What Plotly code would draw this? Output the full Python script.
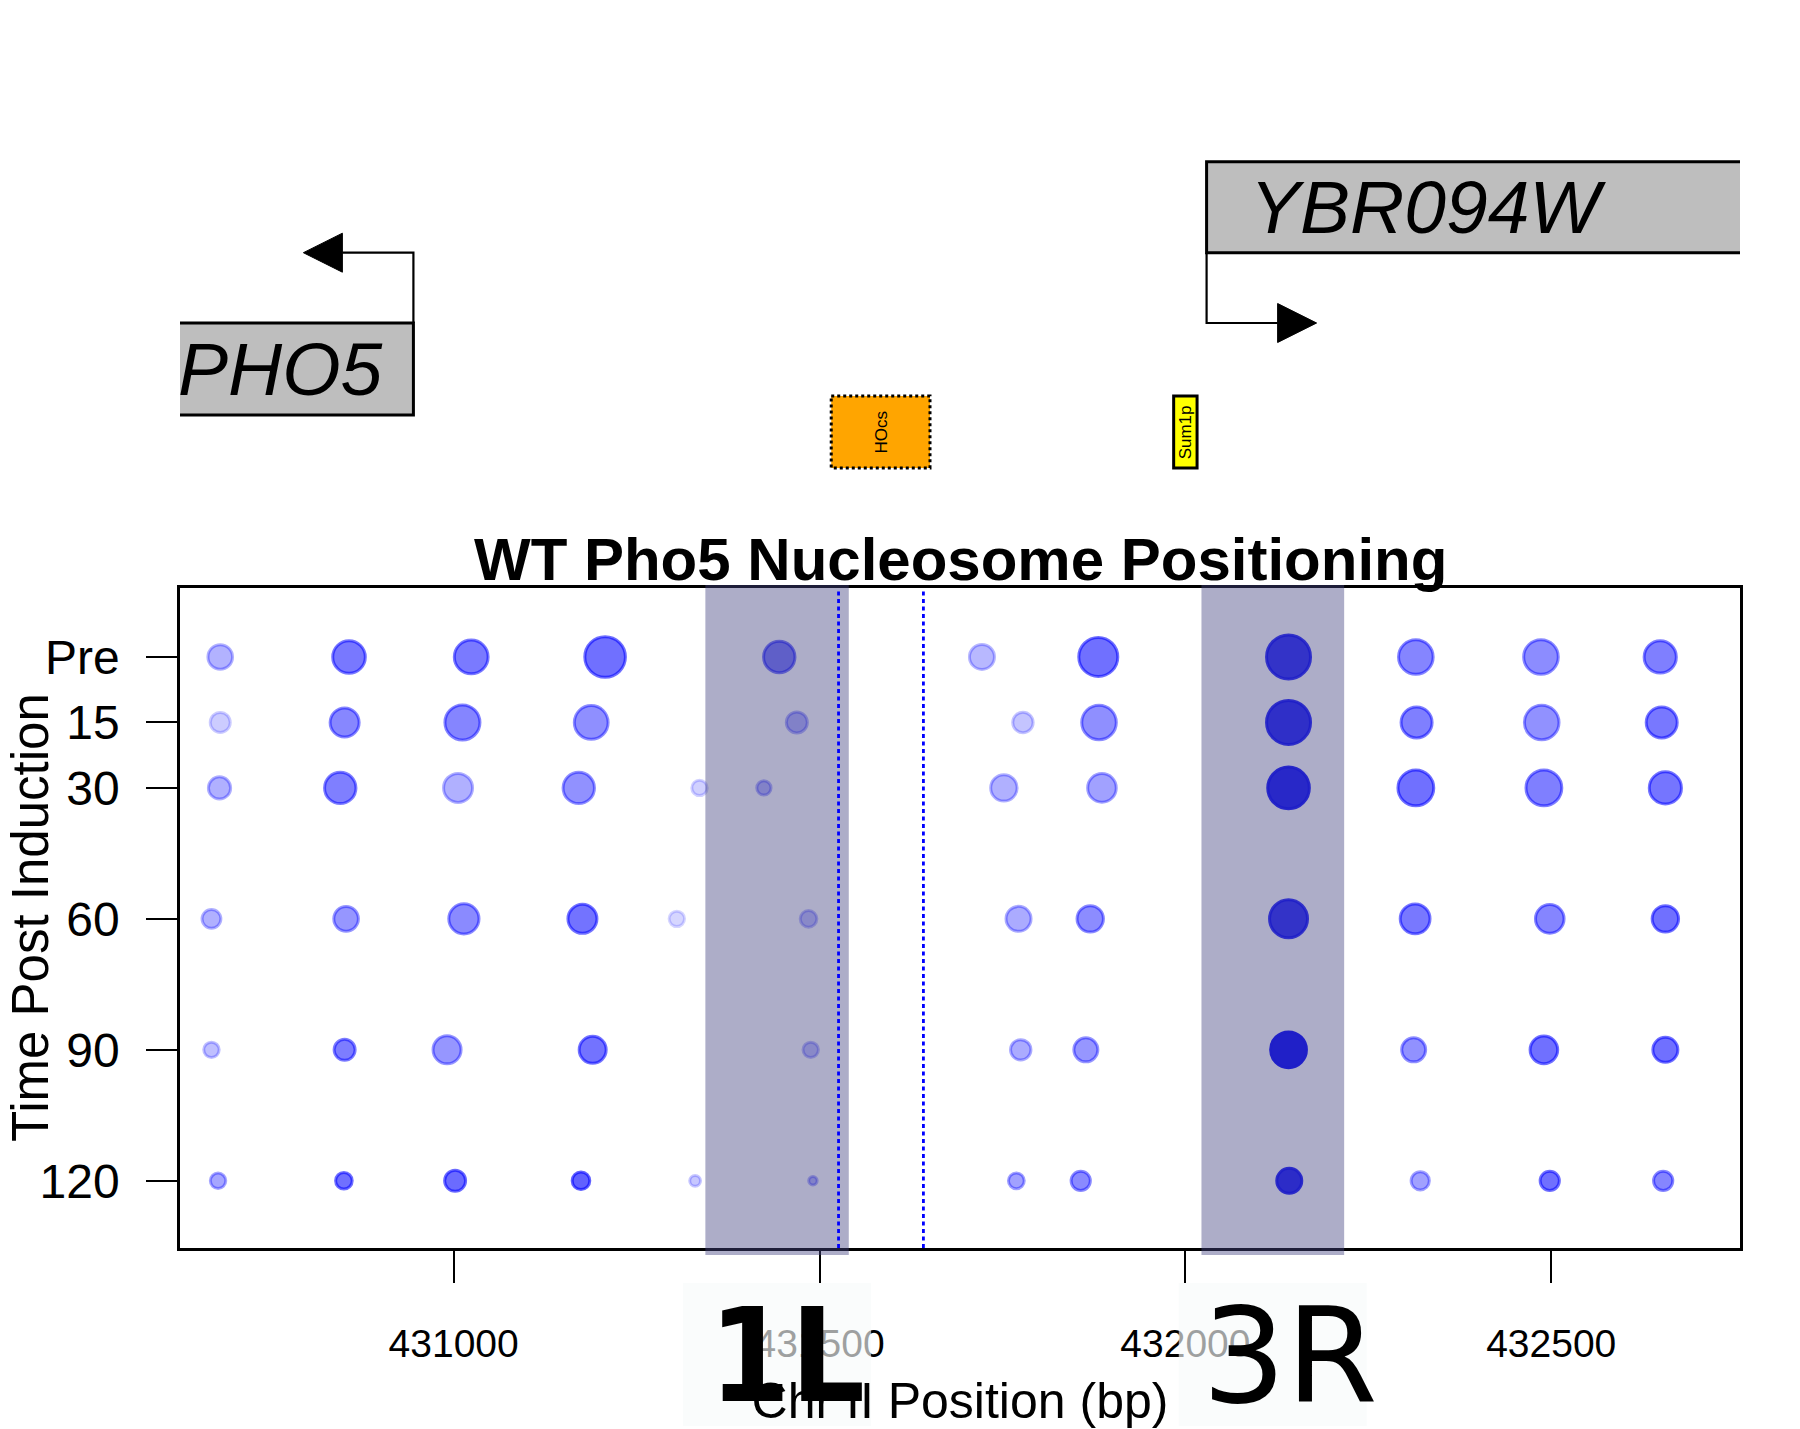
import plotly.graph_objects as go

# ---------------- data ----------------
TIMES = [0, 15, 30, 60, 90, 120]
TIME_LABELS = ["Pre", "15", "30", "60", "90", "120"]
X_TICKS = [431000, 431500, 432000, 432500]

# nucleosome dyad positions (bp), occupancy (marker radius units) and confidence (alpha)
POS_PRE = [430681, 430857, 431024, 431207, 431445, 431722, 431881, 432141, 432315, 432486, 432649]
OCC_PRE = [13.8, 17.8, 18.4, 21.8, 17.2, 14.0, 21.0, 23.5, 18.8, 18.8, 17.6]
CONF_PRE = [0.30, 0.53, 0.52, 0.56, 0.54, 0.28, 0.56, 0.85, 0.48, 0.45, 0.50]

POS_15 = [430681, 430851, 431012, 431188, 431469, 431778, 431882, 432141, 432316, 432487, 432651]
OCC_15 = [11.5, 16.0, 19.0, 18.4, 12.0, 11.7, 18.8, 23.5, 17.0, 18.8, 17.0]
CONF_15 = [0.20, 0.47, 0.48, 0.44, 0.31, 0.23, 0.44, 0.88, 0.50, 0.43, 0.53]

POS_30 = [430680, 430845, 431006, 431171, 431336, 431424, 431752, 431886, 432141, 432315, 432490, 432656]
OCC_30 = [12.6, 17.2, 16.0, 17.2, 9.2, 8.6, 14.7, 15.8, 22.3, 19.4, 19.4, 17.6]
CONF_30 = [0.31, 0.50, 0.31, 0.43, 0.18, 0.30, 0.31, 0.37, 0.93, 0.56, 0.50, 0.54]

POS_60 = [430669, 430853, 431014, 431176, 431305, 431485, 431772, 431870, 432141, 432314, 432498, 432656]
OCC_60 = [10.9, 13.8, 16.6, 16.0, 9.2, 9.8, 14.0, 14.7, 20.5, 16.4, 15.8, 14.7]
CONF_60 = [0.31, 0.41, 0.46, 0.55, 0.16, 0.25, 0.33, 0.45, 0.85, 0.53, 0.48, 0.56]

POS_90 = [430669, 430851, 430991, 431190, 431488, 431775, 431864, 432141, 432312, 432490, 432656]
OCC_90 = [9.2, 12.0, 15.5, 15.0, 9.2, 11.7, 13.5, 19.4, 13.5, 15.3, 14.0]
CONF_90 = [0.25, 0.51, 0.41, 0.55, 0.25, 0.33, 0.41, 0.98, 0.43, 0.56, 0.56]

POS_120 = [430678, 430850, 431002, 431174, 431330, 431491, 431769, 431857, 432142, 432321, 432498, 432653]
OCC_120 = [9.2, 9.8, 12.0, 10.3, 6.9, 5.7, 9.4, 11.1, 14.0, 10.6, 11.1, 11.1]
CONF_120 = [0.35, 0.56, 0.58, 0.62, 0.22, 0.30, 0.37, 0.46, 0.90, 0.37, 0.56, 0.48]

ROWS = [
    (TIMES[0], POS_PRE, OCC_PRE, CONF_PRE),
    (TIMES[1], POS_15, OCC_15, CONF_15),
    (TIMES[2], POS_30, OCC_30, CONF_30),
    (TIMES[3], POS_60, OCC_60, CONF_60),
    (TIMES[4], POS_90, OCC_90, CONF_90),
    (TIMES[5], POS_120, OCC_120, CONF_120),
]

# highlighted nucleosomes
NUC_LABELS = ["1L", "3R"]
NUC_START = [431344, 432022]
NUC_END = [431540, 432217]

# HO cut-site region boundaries
HO_LINES = [431526, 431642]

# genes
GENE_NAMES = ["PHO5", "YBR094W"]
GENE_START = [430400, 432029]
GENE_END = [430945, 433000]
GENE_STRAND = ["-", "+"]

# binding features
FEAT_NAMES = ["HOcs", "Sum1p"]
FEAT_START = [431516, 431984]
FEAT_END = [431651, 432016]
FEAT_COLORS = ["#FFA500", "#FFFF00"]
FEAT_DASH = ["dot", "solid"]

# ---------------- layout constants ----------------
W, H = 1800, 1429
ML, MR, MT, MB = 180, 60, 100, 181
PW, PH = W - ML - MR, H - MT - MB
X_RANGE = [430626, 432758]
Y_RANGE = [135.4, -15.8]
MAIN_TOP = 588
TRACK_TOP, TRACK_BOT = 140, 470
FONT = "Liberation Sans, Arial, sans-serif"


def pxx(px):
    return (px - ML) / PW


def pxy(py):
    return (H - MB - py) / PH


LW = 3
fig = go.Figure()
for t, pos, occ, conf in ROWS:
    cols = [f"rgba(0,0,255,{a})" for a in conf]
    fig.add_trace(go.Scatter(
        x=pos, y=[t] * len(pos), mode="markers",
        marker=dict(size=[2 * o - LW for o in occ], color=cols, opacity=1,
                    line=dict(color=cols, width=LW)),
        showlegend=False, hoverinfo="skip", xaxis="x", yaxis="y"))

# invisible trace to instantiate track subplot
fig.add_trace(go.Scatter(x=[X_RANGE[0]], y=[TRACK_BOT], mode="markers",
                         marker=dict(size=1, color="rgba(0,0,0,0)"),
                         showlegend=False, hoverinfo="skip", xaxis="x2", yaxis="y2"))

shapes = []
# nucleosome bands (above points)
for s, e in zip(NUC_START, NUC_END):
    shapes.append(dict(type="rect", xref="x", yref="y domain", x0=s, x1=e,
                       y0=-7 / 660, y1=1 + 3 / 660, fillcolor="rgba(68,68,130,0.44)",
                       line=dict(width=0), layer="above"))
for xv in HO_LINES:
    shapes.append(dict(type="line", xref="x", yref="y domain", x0=xv, x1=xv, y0=0, y1=1,
                       line=dict(color="#0000FF", width=2.8, dash="4px,3.5px"), layer="above"))

# gene track
BP_PER_PX = 1 / 0.73147
ARROW_LEN = 110 * BP_PER_PX
HEAD_LEN = 39 * BP_PER_PX
HEAD_HALF = 19.5
LEVEL_HI = (161.7, 252.7)
LEVEL_LO = (323.0, 415.0)
for name, s, e, strand in zip(GENE_NAMES, GENE_START, GENE_END, GENE_STRAND):
    if strand == "-":
        y0, y1 = LEVEL_LO
        tss, direction, ay = e, -1, LEVEL_HI[1]
        stem_from = y0
    else:
        y0, y1 = LEVEL_HI
        tss, direction, ay = s, 1, LEVEL_LO[0]
        stem_from = y1
    shapes.append(dict(type="rect", xref="x2", yref="y2", x0=s, x1=e, y0=y0, y1=y1,
                       fillcolor="#BEBEBE", line=dict(color="black", width=3), layer="above"))
    base = tss + direction * (ARROW_LEN - HEAD_LEN)
    tip = tss + direction * ARROW_LEN
    shapes.append(dict(type="path", xref="x2", yref="y2",
                       path=f"M {tss},{stem_from} L {tss},{ay} L {base},{ay}",
                       line=dict(color="black", width=2.2), layer="above"))
    shapes.append(dict(type="path", xref="x2", yref="y2",
                       path=f"M {base},{ay - HEAD_HALF} L {tip},{ay} L {base},{ay + HEAD_HALF} Z",
                       fillcolor="black", line=dict(color="black", width=1), layer="above"))

for name, s, e, c, d in zip(FEAT_NAMES, FEAT_START, FEAT_END, FEAT_COLORS, FEAT_DASH):
    shapes.append(dict(type="rect", xref="x2", yref="y2", x0=s, x1=e, y0=396, y1=468,
                       fillcolor=c, line=dict(color="black", width=3, dash=d), layer="above"))

# translucent label boxes under 1L / 3R
BOX_HALF = 94 * BP_PER_PX
for s, e in zip(NUC_START, NUC_END):
    c = (s + e) / 2
    shapes.append(dict(type="rect", xref="x", yref="paper", x0=c - BOX_HALF, x1=c + BOX_HALF,
                       y0=pxy(1426), y1=pxy(1283), fillcolor="rgba(247,251,251,0.64)",
                       line=dict(width=0), layer="above"))

annotations = []
annotations.append(dict(text="<b>WT Pho5 Nucleosome Positioning</b>", xref="paper", yref="paper",
                        x=0.5, y=pxy(559), xanchor="center", yanchor="middle", showarrow=False,
                        font=dict(family=FONT, size=60, color="black")))
annotations.append(dict(text="Time Post Induction", xref="paper", yref="paper",
                        x=pxx(30), y=pxy(918), xanchor="center", yanchor="middle", showarrow=False,
                        textangle=-90, font=dict(family=FONT, size=51, color="black")))
GENE_TEXT_PX = [(176, 369), (1248, 207)]
for name, (gx, gy) in zip(GENE_NAMES, GENE_TEXT_PX):
    annotations.append(dict(text=f"<i>{name}</i>", xref="paper", yref="paper", x=pxx(gx), y=pxy(gy),
                            xanchor="left", yanchor="middle", showarrow=False,
                            font=dict(family=FONT, size=75, color="black")))
for name, s, e in zip(FEAT_NAMES, FEAT_START, FEAT_END):
    annotations.append(dict(text=name, xref="x2", yref="y2", x=(s + e) / 2, y=432,
                            xanchor="center", yanchor="middle", showarrow=False, textangle=-90,
                            font=dict(family=FONT, size=17, color="black")))
LABEL_STYLE = [
    dict(size=130, shift=10, family="DejaVu Sans Condensed, DejaVu Sans", weight="bold"),
    dict(size=132, shift=17, family="DejaVu Sans", weight="normal"),
]
for lab, s, e, st in zip(NUC_LABELS, NUC_START, NUC_END, LABEL_STYLE):
    annotations.append(dict(text=lab, xref="x", yref="paper", x=(s + e) / 2, y=pxy(1356),
                            xanchor="center", yanchor="middle", showarrow=False, xshift=st["shift"],
                            height=138, valign="middle",
                            font=dict(family=st["family"], size=st["size"], color="black",
                                      weight=st["weight"])))

main_dom_top = pxy(MAIN_TOP)
fig.update_layout(
    width=W, height=H, margin=dict(l=ML, r=MR, t=MT, b=MB, autoexpand=False),
    paper_bgcolor="white", plot_bgcolor="white",
    xaxis=dict(range=X_RANGE, domain=[0, 1], anchor="y", tickvals=X_TICKS,
               ticktext=[str(v) for v in X_TICKS], ticks="outside", ticklen=32, tickwidth=2,
               tickcolor="black", showline=True, linecolor="black", linewidth=2.5, mirror=True,
               showgrid=False, zeroline=False, ticklabelstandoff=27, automargin=False,
               tickfont=dict(family=FONT, size=39, color="black"),
               title=dict(text="Chr II Position (bp)", font=dict(family=FONT, size=50, color="black"),
                          standoff=21)),
    yaxis=dict(range=Y_RANGE, domain=[0, main_dom_top], anchor="x", tickvals=TIMES,
               ticktext=TIME_LABELS, ticks="outside", ticklen=31, tickwidth=2, tickcolor="black",
               showline=True, linecolor="black", linewidth=2.5, mirror=True, showgrid=False,
               zeroline=False, ticklabelstandoff=17, automargin=False,
               tickfont=dict(family=FONT, size=48, color="black")),
    xaxis2=dict(range=X_RANGE, domain=[0, 1], anchor="y2", matches="x", visible=False,
                automargin=False),
    yaxis2=dict(range=[TRACK_BOT, TRACK_TOP], domain=[pxy(TRACK_BOT), pxy(TRACK_TOP)],
                anchor="x2", visible=False, automargin=False),
    shapes=shapes, annotations=annotations,
)

fig.write_html("out.html")
